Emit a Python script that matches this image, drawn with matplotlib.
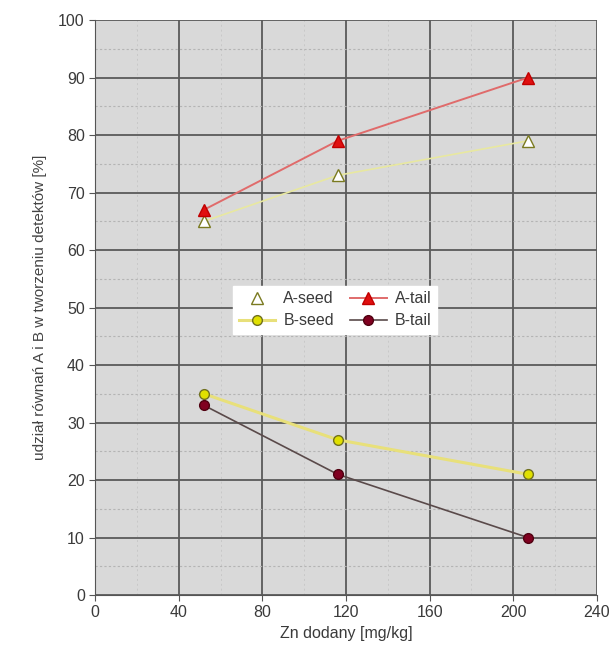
import numpy as np
import matplotlib
matplotlib.use("Agg")
import matplotlib.pyplot as plt
from matplotlib.lines import Line2D

plt.rcParams['font.family'] = ['Liberation Sans', 'DejaVu Sans']

# dane
zn = [52, 116, 207]
a_seed = [65, 73, 79]
a_tail = [67, 79, 90]
b_seed = [35, 27, 21]
b_tail = [33, 21, 10]

x_ticks = [0, 40, 80, 120, 160, 200, 240]
y_ticks = [0, 10, 20, 30, 40, 50, 60, 70, 80, 90, 100]

fig = plt.figure(figsize=(6.14, 6.6), dpi=100)
ax = fig.add_axes([0.155, 0.0985, 0.817, 0.871])
ax.set_facecolor('#d9d9d9')

ax.set_xlim(0, 240)
ax.set_ylim(0, 100)
ax.set_xticks(x_ticks)
ax.set_yticks(y_ticks)
ax.set_xticks(np.arange(0, 241, 20), minor=True)
ax.set_yticks(np.arange(0, 101, 5), minor=True)

ax.grid(which='major', color='#5a5a5a', linewidth=1.3)
ax.grid(which='minor', axis='y', color='#b4b4b4', linewidth=0.8, linestyle=(0, (2, 2)))
ax.grid(which='minor', axis='x', color='#c8c8c8', linewidth=0.7, linestyle=(0, (2, 3)))
ax.set_axisbelow(True)
ax.tick_params(which='minor', length=0)
ax.tick_params(which='major', length=4, color='#555555', labelsize=11.5, labelcolor='#3a3a3a')

for s in ['top', 'right']:
    ax.spines[s].set_visible(False)
for s in ['left', 'bottom']:
    ax.spines[s].set_color('#555555')

l1, = ax.plot(zn, a_seed, color='#e8e8a0', lw=1.2, marker='^', ms=8,
              mfc='white', mec='#7a7a20', mew=1.0, zorder=3)
l2, = ax.plot(zn, a_tail, color='#e06b6b', lw=1.4, marker='^', ms=8,
              mfc='#e01010', mec='#c00000', zorder=4)
l3, = ax.plot(zn, b_seed, color='#e8e07a', lw=2.2, marker='o', ms=7,
              mfc='#e0e000', mec='#707020', mew=1.0, zorder=3)
l4, = ax.plot(zn, b_tail, color='#5a4a4a', lw=1.2, marker='o', ms=7,
              mfc='#800020', mec='#500010', zorder=4)

# A-seed w legendzie bez linii
h_seed = Line2D([], [], linestyle='none', marker='^', ms=8, mfc='white',
                mec='#7a7a20')
leg = ax.legend([h_seed, l3, l2, l4], ['A-seed', 'B-seed', 'A-tail', 'B-tail'],
                ncol=2, loc='center', bbox_to_anchor=(0.478, 0.496),
                frameon=True, fancybox=False, edgecolor='white',
                facecolor='white', framealpha=1, fontsize=11.5,
                handlelength=2.3, handletextpad=0.5, columnspacing=1.0,
                borderpad=0.35, labelspacing=0.45)
for t in leg.get_texts():
    t.set_color('#3a3a3a')

ax.set_xlabel('Zn dodany [mg/kg]', fontsize=11.5, color='#3a3a3a', labelpad=4)
ax.set_ylabel('udział równań A i B w tworzeniu detektów [%]', fontsize=11,
              color='#444444', labelpad=8)

fig.savefig('out.png', dpi=100)
